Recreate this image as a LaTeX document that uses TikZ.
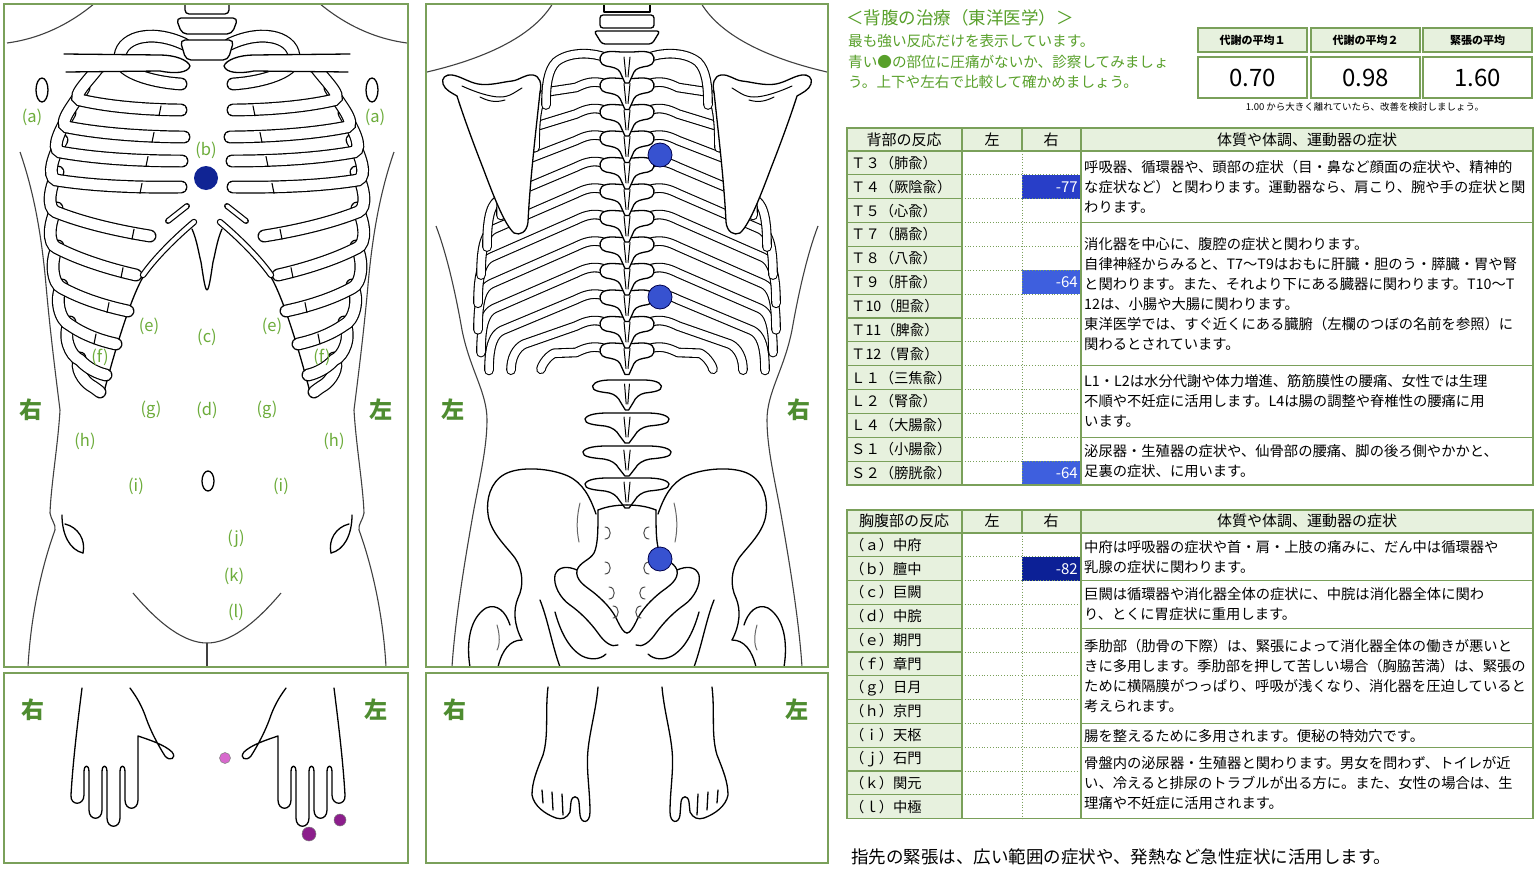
\documentclass[tikz,border=0pt]{standalone}
\usepackage{fontspec}
\setmainfont{Noto Sans CJK JP}
\definecolor{frame}{RGB}{122,160,90}
\definecolor{lblgreen}{RGB}{108,172,58}
\definecolor{sidegreen}{RGB}{78,140,48}
\definecolor{txtgreen}{RGB}{88,160,42}
\definecolor{hdrfill}{RGB}{231,241,222}
\definecolor{vbone}{RGB}{40,62,200}
\definecolor{vbtwo}{RGB}{62,95,222}
\definecolor{vbthree}{RGB}{12,32,150}
\definecolor{dotfront}{RGB}{16,36,148}
\definecolor{dotback}{RGB}{55,82,208}
\definecolor{magl}{RGB}{215,105,205}
\definecolor{magd}{RGB}{140,30,140}
\tikzset{
 panel/.style={draw=frame, line width=1.5pt},
 bodyline/.style={draw=black!75, line width=1.1pt},
 bone/.style={draw=black, line width=1.3pt, line join=round, line cap=round},
 rib/.style={draw=black, line width=1.2pt, double=white, double distance=10.5pt, line cap=round},
 brib/.style={draw=black, line width=1.1pt, double=white, double distance=7.5pt, line cap=round, line join=round},
 ptlbl/.style={text=lblgreen, font=\fontsize{16.5}{16.5}\selectfont, inner sep=0pt},
 sidelbl/.style={text=sidegreen, font=\bfseries\fontsize{23}{23}\selectfont, inner sep=0pt},
 rowtxt/.style={anchor=west, inner sep=0pt, font=\fontsize{14.3}{14.3}\selectfont},
 desctxt/.style={anchor=west, inner sep=0pt, font=\fontsize{14.3}{14.3}\selectfont},
 hdrtxt/.style={inner sep=0pt, font=\fontsize{15}{15}\selectfont},
 valtxt/.style={anchor=east, inner sep=0pt, text=white, font=\fontsize{15}{15}\selectfont},
 greentxt/.style={anchor=west, inner sep=0pt, text=txtgreen, font=\fontsize{14.6}{14.6}\selectfont},
 tline/.style={draw=frame, line width=1.2pt},
 tdot/.style={draw=frame, dotted, line width=0.8pt},
}
% front rib: medial (1,2), lateral (3,4), hook end (5,6)
\newcommand\frib[6]{\draw[rib] (#1,#2) .. controls ({#1+0.33*(#3-#1)},{#2+0.33*(#4-#2)+3}) and ({#1+0.7*(#3-#1)},{#2+0.7*(#4-#2)+4}) .. (#3,#4) .. controls +(-10,-4) and +(-8,14) .. (#5,#6);}
% costochondral tick across a front rib band
\newcommand\ftick[2]{\draw[bone, line width=1.1pt] ({#1+1},{#2-5}) -- ({#1-1},{#2+5});}
% back rib: spine y, lateral x, hook length
\newcommand\brib[3]{\pgfmathsetmacro\yL{#1-2+0.58*(564-#2)}%
 \draw[brib] (604,#1) .. controls (594,{#1-3}) and (586,{#1-1}) .. (576,{#1+4}) -- ({#2+12},{\yL-6}) .. controls ({#2+4},{\yL-2}) and ({#2-1},{\yL+8}) .. ({#2-1},{\yL+#3});}
\newcommand\frontL{%
 \draw[bodyline] (20,152) .. controls (35,195) and (42,240) .. (46,285) .. controls (50,330) and (55,370) .. (60,410) .. controls (58,445) and (51,485) .. (50,513) .. controls (51,520) and (56,524) .. (55,530) .. controls (44,560) and (31,610) .. (28,667);
 \draw[bodyline] (7,43) .. controls (45,38) and (75,20) .. (95,3);
 \draw[bone] (42,90) ellipse [x radius=6pt, y radius=12pt];
 \draw[bone] (62,515) .. controls (62,535) and (70,550) .. (83,553);
 \draw[bone] (65,524) .. controls (78,527) and (86,540) .. (83,553);
 \draw[bodyline] (133,593) .. controls (160,625) and (185,643) .. (207,643);
 \draw[bone] (143,277) .. controls (130,300) and (115,350) .. (104,392);
 \draw[rib] (100,392) .. controls +(-4,-3) and +(5,3) .. (90,385) .. controls +(-6,-4) and +(-6,10) .. (80,358);
 \frib{106}{375}{80}{360}{70}{322}
 \frib{116}{344}{70}{325}{62}{285}
 \ftick{95}{339}
 \frib{128}{311}{62}{288}{58}{246}
 \ftick{108}{307.6}
 \frib{136}{275}{57}{248}{57}{208}
 \ftick{122}{272.7}
 \draw[rib, double distance=4pt] (194,222) .. controls (175,238) and (155,258) .. (143,275);
 \draw[rib, double distance=3.5pt] (187,206) -- (168,221);
 \frib{150}{236}{56}{212}{58}{172}
 \ftick{133}{234.2}
 \frib{181}{187}{56}{180}{62}{140}
 \ftick{141}{188.3}
 \frib{182}{161}{60}{152}{70}{113}
 \ftick{147}{161.4}
 \frib{184}{137}{67}{127}{84}{88}
 \ftick{153}{137.4}
 \frib{181}{110}{80}{100}{102}{62}
 \ftick{160}{110.9}
 \draw[rib] (184,44) .. controls (150,28) and (118,38) .. (120,60) .. controls (121,72) and (150,82) .. (181,84);
}
\newcommand\clavL{%
 \fill[white] (64,54) -- (160,55) .. controls (175,55) and (188,60) .. (190,66) .. controls (188,73) and (175,74) .. (160,71) -- (66,72) -- cycle;
 \draw[bone] (64,54) -- (160,55) .. controls (175,55) and (188,60) .. (190,66) .. controls (188,73) and (175,74) .. (160,71) -- (66,72);
}
\newcommand\backL{%
 \draw[bodyline] (427,72) .. controls (470,62) and (530,42) .. (553,3);
 \draw[bodyline] (436,226) .. controls (446,252) and (455,290) .. (462,330) .. controls (470,370) and (487,392) .. (487,420) .. controls (487,450) and (478,485) .. (472,520) .. controls (465,560) and (455,620) .. (452,667);
 \brib{348.5}{542}{10}
 \brib{322}{512}{20}
 \brib{295.5}{490}{34}
 \brib{269}{482}{38}
 \brib{242.5}{479}{40}
 \brib{216}{479}{40}
 \brib{189.5}{482}{40}
 \brib{163}{488}{42}
 \brib{136.5}{502}{45}
 \brib{110}{520}{50}
 \brib{83.5}{536}{50}
 \draw[brib] (604,57) .. controls (590,52) and (568,52) .. (556,62) .. controls (548,70) and (546,85) .. (546,105);
}
\newcommand\thor[1]{\begin{scope}[shift={(627,#1)}]
 \filldraw[bone, fill=white] (-25,-8) .. controls (-20,-12) and (-10,-10) .. (-5,-10) -- (5,-10) .. controls (10,-10) and (20,-12) .. (25,-8) .. controls (29,-4) and (27,3) .. (21,4) .. controls (15,5) and (9,6) .. (7,10) -- (2,21) -- (-2,21) -- (-7,10) .. controls (-9,6) and (-15,5) .. (-21,4) .. controls (-27,3) and (-29,-4) .. cycle;
 \draw[bone, line width=1pt] (-3,-5) -- (-1,15) (3,-5) -- (1,15);
\end{scope}}
\newcommand\lumb[2]{\begin{scope}[shift={(627,#1)}, xscale=#2]
 \filldraw[bone, fill=white] (-20,-10) -- (20,-10) .. controls (28,-10) and (40,-9) .. (42,-4) .. controls (43,1) and (32,2) .. (22,3) .. controls (15,4) and (10,8) .. (8,12) -- (2,20) -- (-2,20) -- (-8,12) .. controls (-10,8) and (-15,4) .. (-22,3) .. controls (-32,2) and (-43,1) .. (-42,-4) .. controls (-40,-9) and (-28,-10) .. cycle;
 \draw[bone, line width=1pt] (-3,-6) -- (-1,14) (3,-6) -- (1,14);
\end{scope}}
\newcommand\scapL{%
 \filldraw[bone, fill=white] (443,84) .. controls (441,78) and (446,74) .. (452,75) .. controls (460,76) and (468,82) .. (478,84) .. controls (490,86) and (502,82) .. (512,81) .. controls (520,80) and (525,74) .. (533,75) .. controls (540,76) and (542,84) .. (540,92) .. controls (536,130) and (530,180) .. (528,222) .. controls (527,232) and (520,236) .. (514,233) .. controls (505,225) and (495,200) .. (483,168) .. controls (472,140) and (462,112) .. (457,96) .. controls (452,93) and (445,90) .. cycle;
 \draw[bone, line width=1pt] (462,86) .. controls (475,92) and (490,97) .. (500,97) .. controls (510,97) and (515,92) .. (522,88);
 \draw[bone, line width=1pt] (480,97) .. controls (488,101) and (495,103) .. (505,100);
}
\newcommand\pelvL{%
 \draw[bone] (596,514) .. controls (590,497) and (583,483) .. (568,476) .. controls (550,468) and (520,466) .. (505,474) .. controls (490,482) and (486,500) .. (488,514) .. controls (490,532) and (506,546) .. (515,558) .. controls (523,570) and (524,586) .. (518,598) .. controls (513,610) and (514,625) .. (522,640);
 \draw[bone] (598,510) .. controls (598,530) and (598,545) .. (594,553) .. controls (590,560) and (580,562) .. (577,570) .. controls (575,580) and (585,586) .. (593,592) .. controls (603,600) and (613,610) .. (618,622) .. controls (621,628) and (624,633) .. (627,633);
 \draw[bone] (598,510) .. controls (608,506) and (618,505) .. (627,505);
 \draw[bone, line width=1pt, black!60] (580,503) .. controls (577,515) and (576,528) .. (579,542);
 \draw[bone] (577,570) .. controls (568,566) and (558,566) .. (555,575) .. controls (553,585) and (560,598) .. (570,605);
 \draw[bone] (570,605) .. controls (580,612) and (590,622) .. (598,633) .. controls (604,642) and (612,648) .. (618,645);
 \draw[bone] (555,612) .. controls (560,630) and (568,648) .. (582,656) .. controls (590,660) and (600,660) .. (606,654);
 \draw[bone] (540,600) .. controls (548,620) and (552,645) .. (560,667);
 \draw[bone] (470,667) .. controls (466,642) and (470,618) .. (486,608) .. controls (497,603) and (506,612) .. (510,625);
 \draw[bone] (498,667) .. controls (502,650) and (510,640) .. (522,640);
 \draw[bone, line width=1pt, black!60] (497,625) .. controls (500,635) and (500,645) .. (497,650);
 \foreach \fx/\fy in {608/533, 608/568, 612/593, 616/612}
   \draw[bone, line width=1pt, black!70] (\fx-3,\fy-6) .. controls (\fx+4,\fy-6) and (\fx+4,\fy+6) .. (\fx-3,\fy+6);
}
\newcommand\handL{%
 \draw[bone] (82,688) .. controls (78,720) and (73,760) .. (71,795) .. controls (70,806) and (84,806) .. (84,795) -- (84,772) .. controls (84,764) and (89,764) .. (89,772) -- (89,810) .. controls (89,821) and (102,821) .. (102,810) -- (102,772) .. controls (102,764) and (107,764) .. (107,772) -- (107,818) .. controls (107,829) and (120,829) .. (120,818) -- (120,772) .. controls (120,764) and (125,764) .. (125,772) -- (125,800) .. controls (125,811) and (138,811) .. (138,800) -- (138,736) .. controls (150,740) and (165,745) .. (172,752) .. controls (177,758) and (170,762) .. (165,756) .. controls (158,745) and (150,730) .. (145,715) .. controls (140,702) and (135,695) .. (130,688);
}
\newcommand\footL{%
 \draw[bone] (548,687) .. controls (545,712) and (549,735) .. (543,755) .. controls (537,770) and (532,782) .. (532,795) .. controls (534,806) and (545,814) .. (556,818) .. controls (562,820) and (567,818) .. (570,812) -- (571,802) .. controls (572,795) and (578,795) .. (579,802) -- (580,815) .. controls (581,824) and (590,824) .. (590,812) .. controls (590,790) and (586,770) .. (588,750) .. controls (590,730) and (596,710) .. (598,687);
 \draw[bone] (542,790) -- (543,803) (552,792) -- (553,810) (562,794) -- (563,815);
}
\begin{document}
\begin{tikzpicture}[x=1pt,y=-1pt]
\useasboundingbox (0,0) rectangle (1538,870);
\fill[white] (0,0) rectangle (1538,870);
% ================= FRONT =================
\begin{scope}
 \clip (4,4) rectangle (408,667);
 \frontL
 \begin{scope}[shift={(414,0)}, xscale=-1] \frontL \end{scope}
 \draw[bodyline] (207,643) -- (207,667);
 \draw[bone, fill=white, rounded corners=4pt] (185,-4) rectangle (229,14);
 \draw[bone, fill=white, rounded corners=5pt] (176,18) -- (238,18) -- (232,34) -- (182,34) -- cycle;
 \draw[bone, fill=white, rounded corners=5pt] (180,40) -- (234,40) -- (228,60) -- (186,60) -- cycle;
 \clavL
 \begin{scope}[shift={(414,0)}, xscale=-1] \clavL \end{scope}
 \draw[bone, fill=white] (192,229) .. controls (197,240) and (199,255) .. (201,262) .. controls (203,275) and (205,290) .. (207,290) .. controls (209,290) and (211,275) .. (213,262) .. controls (215,255) and (217,240) .. (222,229);
 \draw[bone] (208,481) ellipse [x radius=6pt, y radius=10pt];
 \fill[dotfront] (206,178) circle [radius=12pt];
\end{scope}
\draw[panel] (4,4) rectangle (408,667);
\node[ptlbl] (fa1) at (32,117) {(a)};
\node[ptlbl] (fa2) at (375,117) {(a)};
\node[ptlbl] (fb) at (206,150) {(b)};
\node[ptlbl] (fc) at (207,337) {(c)};
\node[ptlbl] (fe1) at (149,326) {(e)};
\node[ptlbl] (fe2) at (272,326) {(e)};
\node[ptlbl] (ff1) at (100,357) {(f)};
\node[ptlbl] (ff2) at (322,357) {(f)};
\node[ptlbl] (fg1) at (151,410) {(g)};
\node[ptlbl] (fd) at (207,410) {(d)};
\node[ptlbl] (fg2) at (267,410) {(g)};
\node[ptlbl] (fh1) at (85,441) {(h)};
\node[ptlbl] (fh2) at (334,441) {(h)};
\node[ptlbl] (fi1) at (136,486) {(i)};
\node[ptlbl] (fi2) at (281,486) {(i)};
\node[ptlbl] (fj) at (236,539) {(j)};
\node[ptlbl] (fk) at (234,576) {(k)};
\node[ptlbl] (fl) at (236,612) {(l)};
\node[sidelbl] (fR) at (31,410) {右};
\node[sidelbl] (fL) at (381,410) {左};
% ================= BACK =================
\begin{scope}
 \clip (426,4) rectangle (828,667);
 \backL
 \begin{scope}[shift={(1254,0)}, xscale=-1] \backL \end{scope}
 \draw[bone, fill=white] (604,-4) -- (604,12) -- (650,12) -- (650,-4);
 \draw[bone, fill=white, rounded corners=3pt] (600,15) rectangle (654,28);
 \draw[bone, fill=white, rounded corners=3pt] (594,31) -- (660,31) -- (652,44) -- (602,44) -- cycle;
 \foreach \k in {12,11,...,1} {\pgfmathsetmacro\vy{62+26.5*(\k-1)} \thor{\vy}}
 \lumb{488}{1}
 \lumb{456}{1.05}
 \lumb{423}{1}
 \lumb{390}{0.82}
 \scapL
 \begin{scope}[shift={(1254,0)}, xscale=-1] \scapL \end{scope}
 \pelvL
 \begin{scope}[shift={(1254,0)}, xscale=-1] \pelvL \end{scope}
 \filldraw[fill=dotback, draw=black!70!blue, line width=0.8pt] (660,155) circle [radius=12pt];
 \filldraw[fill=dotback, draw=black!70!blue, line width=0.8pt] (660,297) circle [radius=12pt];
 \filldraw[fill=dotback, draw=black!70!blue, line width=0.8pt] (660,559) circle [radius=12pt];
\end{scope}
\draw[panel] (426,4) rectangle (828,667);
\node[sidelbl] (bL) at (453,410) {左};
\node[sidelbl] (bR) at (799,410) {右};
% ================= HANDS =================
\handL
\begin{scope}[shift={(416,0)}, xscale=-1] \handL \end{scope}
\filldraw[fill=magl, draw=black!50, line width=0.5pt] (225,758) circle [radius=5.5pt];
\filldraw[fill=magd, draw=black!50, line width=0.5pt] (340,820) circle [radius=6pt];
\filldraw[fill=magd, draw=black!50, line width=0.5pt] (309,834) circle [radius=7pt];
\draw[panel] (4,673) rectangle (408,863);
\node[sidelbl] (hR) at (33,710) {右};
\node[sidelbl] (hL) at (376,710) {左};
% ================= FEET =================
\footL
\begin{scope}[shift={(1260,0)}, xscale=-1] \footL \end{scope}
\draw[panel] (426,673) rectangle (828,863);
\node[sidelbl] (tR) at (455,710) {右};
\node[sidelbl] (tL) at (797,710) {左};
% ================= TOP TEXT =================
\node[anchor=west, inner sep=0pt, text=txtgreen, font=\fontsize{17.5}{17.5}\selectfont] (title) at (846,18) {＜背腹の治療（東洋医学）＞};
\node[greentxt] (g1) at (848,41) {最も強い反応だけを表示しています。};
\node[greentxt] (g2) at (848,62) {青い●の部位に圧痛がないか、診察してみましょ};
\node[greentxt] (g3) at (848,82) {う。上下や左右で比較して確かめましょう。};
\draw[frame, line width=1.5pt, fill=hdrfill] (1198,28) rectangle (1307,52);
\draw[frame, line width=1.5pt, fill=hdrfill] (1311,28) rectangle (1420,52);
\draw[frame, line width=1.5pt, fill=hdrfill] (1423,28) rectangle (1532,52);
\draw[frame, line width=1.5pt] (1198,57) rectangle (1307,98);
\draw[frame, line width=1.5pt] (1311,57) rectangle (1420,98);
\draw[frame, line width=1.5pt] (1423,57) rectangle (1532,98);
\node[inner sep=0pt, font=\bfseries\fontsize{11}{11}\selectfont] (sh1) at (1252.5,40) {代謝の平均１};
\node[inner sep=0pt, font=\bfseries\fontsize{11}{11}\selectfont] (sh2) at (1365.5,40) {代謝の平均２};
\node[inner sep=0pt, font=\bfseries\fontsize{11}{11}\selectfont] (sh3) at (1477.5,40) {緊張の平均};
\node[inner sep=0pt, font=\fontsize{24}{24}\selectfont] (sv1) at (1252.5,78) {0.70};
\node[inner sep=0pt, font=\fontsize{24}{24}\selectfont] (sv2) at (1365.5,78) {0.98};
\node[inner sep=0pt, font=\fontsize{24}{24}\selectfont] (sv3) at (1477.5,78) {1.60};
\node[inner sep=0pt, font=\fontsize{9.5}{9.5}\selectfont] (note) at (1365,107) {1.00 から大きく離れていたら、改善を検討しましょう。};
% ================= BACK TABLE =================
\fill[hdrfill] (847,128) rectangle (1533,151);
\fill[hdrfill] (847,151) rectangle (962,485);
\fill[vbone] (1022,174.86) rectangle (1081,198.72);
\fill[vbtwo] (1022,270.3) rectangle (1081,294.16);
\fill[vbtwo] (1022,461.18) rectangle (1081,485);
\foreach \i in {1,...,13} {
 \pgfmathsetmacro\yy{151+\i*23.86}
 \draw[tline] (847,\yy) -- (962,\yy);
 \draw[tdot] (962,\yy) -- (1081,\yy);
}
\draw[tdot] (1022,151) -- (1022,485);
\draw[tline] (1022,128) -- (1022,151);
\draw[tline] (962,128) -- (962,485);
\draw[tline] (1081,128) -- (1081,485);
\draw[tline] (847,151) -- (1533,151);
\draw[tline] (1081,222.58) -- (1533,222.58);
\draw[tline] (1081,365.74) -- (1533,365.74);
\draw[tline] (1081,437.32) -- (1533,437.32);
\draw[frame, line width=1.5pt] (847,128) rectangle (1533,485);
\node[hdrtxt] (bh1) at (904,140) {背部の反応};
\node[hdrtxt] (bh2) at (992,140) {左};
\node[hdrtxt] (bh3) at (1051,140) {右};
\node[hdrtxt] (bh4) at (1307,140) {体質や体調、運動器の症状};
\foreach \lab [count=\i from 0] in {Ｔ３（肺兪）,Ｔ４（厥陰兪）,Ｔ５（心兪）,Ｔ７（膈兪）,Ｔ８（八兪）,Ｔ９（肝兪）,Ｔ10（胆兪）,Ｔ11（脾兪）,Ｔ12（胃兪）,Ｌ１（三焦兪）,Ｌ２（腎兪）,Ｌ４（大腸兪）,Ｓ１（小腸兪）,Ｓ２（膀胱兪）}
 \node[rowtxt] (bk\i) at (851,{151+(\i+0.5)*23.86}) {\lab};
\node[valtxt] (bv1) at (1078,{151+1.5*23.86}) {-77};
\node[valtxt] (bv2) at (1078,{151+5.5*23.86}) {-64};
\node[valtxt] (bv3) at (1078,{151+13.5*23.86}) {-64};
\node[desctxt] (bd1) at (1084,167) {呼吸器、循環器や、頭部の症状（目・鼻など顔面の症状や、精神的};
\node[desctxt] (bd2) at (1084,187) {な症状など）と関わります。運動器なら、肩こり、腕や手の症状と関};
\node[desctxt] (bd3) at (1084,207) {わります。};
\node[desctxt] (bd4) at (1084,244) {消化器を中心に、腹腔の症状と関わります。};
\node[desctxt] (bd5) at (1084,264) {自律神経からみると、T7～T9はおもに肝臓・胆のう・膵臓・胃や腎};
\node[desctxt] (bd6) at (1084,284) {と関わります。また、それより下にある臓器に関わります。T10～T};
\node[desctxt] (bd7) at (1084,304) {12は、小腸や大腸に関わります。};
\node[desctxt] (bd8) at (1084,324) {東洋医学では、すぐ近くにある臓腑（左欄のつぼの名前を参照）に};
\node[desctxt] (bd9) at (1084,344) {関わるとされています。};
\node[desctxt] (bd10) at (1084,381) {L1・L2は水分代謝や体力増進、筋筋膜性の腰痛、女性では生理};
\node[desctxt] (bd11) at (1084,401) {不順や不妊症に活用します。L4は腸の調整や脊椎性の腰痛に用};
\node[desctxt] (bd12) at (1084,421) {います。};
\node[desctxt] (bd13) at (1084,451) {泌尿器・生殖器の症状や、仙骨部の腰痛、脚の後ろ側やかかと、};
\node[desctxt] (bd14) at (1084,471) {足裏の症状、に用います。};
% ================= CHEST TABLE =================
\fill[hdrfill] (847,510) rectangle (1533,533);
\fill[hdrfill] (847,533) rectangle (962,818.6);
\fill[vbthree] (1022,556.8) rectangle (1081,580.6);
\foreach \i in {1,...,11} {
 \pgfmathsetmacro\yy{533+\i*23.8}
 \draw[tline] (847,\yy) -- (962,\yy);
 \draw[tdot] (962,\yy) -- (1081,\yy);
}
\draw[tdot] (1022,533) -- (1022,818.6);
\draw[tline] (1022,510) -- (1022,533);
\draw[tline] (962,510) -- (962,818.6);
\draw[tline] (1081,510) -- (1081,818.6);
\draw[tline] (847,533) -- (1533,533);
\draw[tline] (1081,580.6) -- (1533,580.6);
\draw[tline] (1081,628.2) -- (1533,628.2);
\draw[tline] (1081,723.4) -- (1533,723.4);
\draw[tline] (1081,747.2) -- (1533,747.2);
\draw[frame, line width=1.5pt] (847,510) rectangle (1533,818.6);
\node[hdrtxt] (ch1) at (904,521) {胸腹部の反応};
\node[hdrtxt] (ch2) at (992,521) {左};
\node[hdrtxt] (ch3) at (1051,521) {右};
\node[hdrtxt] (ch4) at (1307,521) {体質や体調、運動器の症状};
\foreach \lab [count=\i from 0] in {（ａ）中府,（ｂ）膻中,（ｃ）巨闕,（ｄ）中脘,（ｅ）期門,（ｆ）章門,（ｇ）日月,（ｈ）京門,（ｉ）天枢,（ｊ）石門,（ｋ）関元,（ｌ）中極}
 \node[rowtxt] (ck\i) at (850,{533+(\i+0.5)*23.8}) {\lab};
\node[valtxt] (cv1) at (1078,{533+1.5*23.8}) {-82};
\node[desctxt] (cd1) at (1084,547) {中府は呼吸器の症状や首・肩・上肢の痛みに、だん中は循環器や};
\node[desctxt] (cd2) at (1084,567) {乳腺の症状に関わります。};
\node[desctxt] (cd3) at (1084,594) {巨闕は循環器や消化器全体の症状に、中脘は消化器全体に関わ};
\node[desctxt] (cd4) at (1084,614) {り、とくに胃症状に重用します。};
\node[desctxt] (cd5) at (1084,646) {季肋部（肋骨の下際）は、緊張によって消化器全体の働きが悪いと};
\node[desctxt] (cd6) at (1084,666) {きに多用します。季肋部を押して苦しい場合（胸脇苦満）は、緊張の};
\node[desctxt] (cd7) at (1084,686) {ために横隔膜がつっぱり、呼吸が浅くなり、消化器を圧迫していると};
\node[desctxt] (cd8) at (1084,706) {考えられます。};
\node[desctxt] (cd9) at (1084,736) {腸を整えるために多用されます。便秘の特効穴です。};
\node[desctxt] (cd10) at (1084,763) {骨盤内の泌尿器・生殖器と関わります。男女を問わず、トイレが近};
\node[desctxt] (cd11) at (1084,783) {い、冷えると排尿のトラブルが出る方に。また、女性の場合は、生};
\node[desctxt] (cd12) at (1084,803) {理痛や不妊症に活用されます。};
\node[anchor=west, inner sep=0pt, font=\fontsize{17.5}{17.5}\selectfont] (foot) at (851,857) {指先の緊張は、広い範囲の症状や、発熱など急性症状に活用します。};
\end{tikzpicture}
\end{document}
